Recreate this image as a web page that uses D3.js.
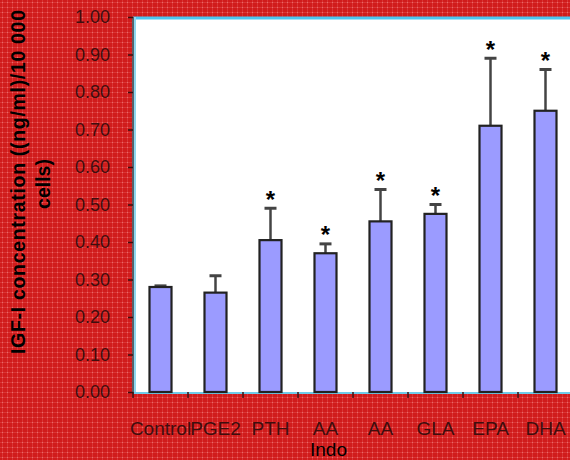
<!DOCTYPE html>
<style>
body { margin: 0; }
svg { display: block; font-family: Arial, "Liberation Sans", sans-serif; }
</style>
<svg id="chart" width="570" height="460"></svg>
<script src="https://cdnjs.cloudflare.com/ajax/libs/d3/7.8.5/d3.min.js"></script>
<script>
// data
var categories = ["Control", "PGE2", "PTH", "AA", "AA", "GLA", "EPA", "DHA"];
var means  = [0.28, 0.265, 0.405, 0.37, 0.455, 0.475, 0.71, 0.75];
var errTop = [0.283, 0.31, 0.49, 0.395, 0.54, 0.50, 0.89, 0.86];
var starred = [false, false, true, true, true, true, true, true];
var yTicks = [0, 0.1, 0.2, 0.3, 0.4, 0.5, 0.6, 0.7, 0.8, 0.9, 1.0];

var svg = d3.select("#chart");
var margin = {top: 17, left: 133, bottom: 68};
var W = 570, H = 460;

// red patterned background
var defs = svg.append("defs");
var pat = defs.append("pattern").attr("id", "bg").attr("width", 5).attr("height", 5)
    .attr("patternUnits", "userSpaceOnUse");
pat.append("rect").attr("width", 5).attr("height", 5).attr("fill", "#d01c1c");
pat.append("rect").attr("x", 0).attr("y", 2).attr("width", 5).attr("height", 1).attr("fill", "#da3535");
pat.append("rect").attr("x", 2).attr("y", 0).attr("width", 1).attr("height", 5).attr("fill", "#da3535");
pat.append("rect").attr("x", 2).attr("y", 2).attr("width", 1).attr("height", 1).attr("fill", "#e86a6a");
svg.append("rect").attr("width", W).attr("height", H).attr("fill", "url(#bg)");

var y = d3.scaleLinear().domain([0, 1]).range([392, margin.top]);
var x = d3.scaleBand().domain(d3.range(categories.length)).range([margin.left, margin.left + 55 * categories.length]);

// plot area
svg.append("rect")
    .attr("x", margin.left).attr("y", y(1))
    .attr("width", W - margin.left + 5).attr("height", y(0) - y(1))
    .attr("fill", "white");
svg.append("line").attr("x1", margin.left).attr("x2", W).attr("y1", y(1) + 1).attr("y2", y(1) + 1)
    .attr("stroke", "#4cc6f2").attr("stroke-width", 3);
svg.append("line").attr("x1", margin.left).attr("x2", W).attr("y1", y(0) + 1).attr("y2", y(0) + 1)
    .attr("stroke", "#6fcbe8").attr("stroke-width", 2);
svg.append("line").attr("x1", margin.left + 2).attr("x2", margin.left + 2).attr("y1", y(1)).attr("y2", y(0))
    .attr("stroke", "#8fd8f0").attr("stroke-width", 2);
svg.append("line").attr("x1", margin.left).attr("x2", margin.left).attr("y1", y(1)).attr("y2", y(0) + 2)
    .attr("stroke", "#5a6068").attr("stroke-width", 2);

// y axis
var yAxis = svg.append("g")
    .attr("transform", "translate(" + margin.left + ",0)")
    .call(d3.axisLeft(y).tickValues(yTicks).tickFormat(d3.format(".2f")).tickSize(5).tickPadding(18));
yAxis.select(".domain").remove();
yAxis.selectAll(".tick line").attr("stroke", "#3a1010").attr("stroke-width", 1.5);
yAxis.selectAll(".tick text").attr("font-size", 18).attr("fill", "#3e0e0e")
    .attr("font-family", "Arial, 'Liberation Sans', sans-serif");

// x axis
var xAxis = svg.append("g")
    .attr("transform", "translate(0," + y(0) + ")")
    .call(d3.axisBottom(x).tickFormat(function(i) { return categories[i]; }).tickSize(0).tickPadding(30));
xAxis.select(".domain").remove();
xAxis.selectAll(".tick text").attr("font-size", 19).attr("fill", "#3e0e0e")
    .attr("font-family", "Arial, 'Liberation Sans', sans-serif");
svg.append("g").selectAll("line")
    .data(d3.range(categories.length))
    .enter().append("line")
    .attr("x1", function(i) { return x(i); }).attr("x2", function(i) { return x(i); })
    .attr("y1", y(0)).attr("y2", y(0) + 6)
    .attr("stroke", "#3a1010").attr("stroke-width", 1.5);

svg.append("text").attr("x", x(3) + x.bandwidth() / 2 + 3).attr("y", 456)
    .attr("text-anchor", "middle").attr("font-size", 19).attr("fill", "black").text("Indo");

// bars
var bw = 22;
var idx = d3.range(categories.length);
var cx = function(i) { return x(i) + x.bandwidth() / 2; };
var g = svg.append("g");
g.selectAll("line.err")
    .data(idx)
    .enter().append("line").attr("class", "err")
    .attr("x1", cx).attr("x2", cx)
    .attr("y1", function(i) { return y(means[i]); })
    .attr("y2", function(i) { return y(errTop[i]); })
    .attr("stroke", "#444").attr("stroke-width", 2.5);
g.selectAll("line.cap")
    .data(idx)
    .enter().append("line").attr("class", "cap")
    .attr("x1", function(i) { return cx(i) - 6; })
    .attr("x2", function(i) { return cx(i) + 6; })
    .attr("y1", function(i) { return y(errTop[i]); })
    .attr("y2", function(i) { return y(errTop[i]); })
    .attr("stroke", "#444").attr("stroke-width", 3);
g.selectAll("rect")
    .data(idx)
    .enter().append("rect")
    .attr("x", function(i) { return cx(i) - bw / 2; })
    .attr("y", function(i) { return y(means[i]); })
    .attr("width", bw)
    .attr("height", function(i) { return y(0) - y(means[i]); })
    .attr("fill", "#9b9bff").attr("stroke", "#222").attr("stroke-width", 2.2);

// significance stars
g.selectAll("text.star")
    .data(idx.filter(function(i) { return starred[i]; }))
    .enter().append("text").attr("class", "star")
    .attr("x", cx)
    .attr("y", function(i) { return y(errTop[i]) - 0.5; })
    .attr("text-anchor", "middle").attr("font-size", 24).attr("font-weight", "bold")
    .text("*");

// y label
var lab = svg.append("text").attr("transform", "rotate(-90)")
    .attr("text-anchor", "middle").attr("font-size", 19.5).attr("font-weight", "bold").attr("fill", "black");
lab.append("tspan").attr("x", -182).attr("y", 25)
    .attr("textLength", 344).attr("lengthAdjust", "spacing")
    .text("IGF-I concentration ((ng/ml)/10 000");
lab.append("tspan").attr("x", -184).attr("y", 50).text("cells)");
</script>
